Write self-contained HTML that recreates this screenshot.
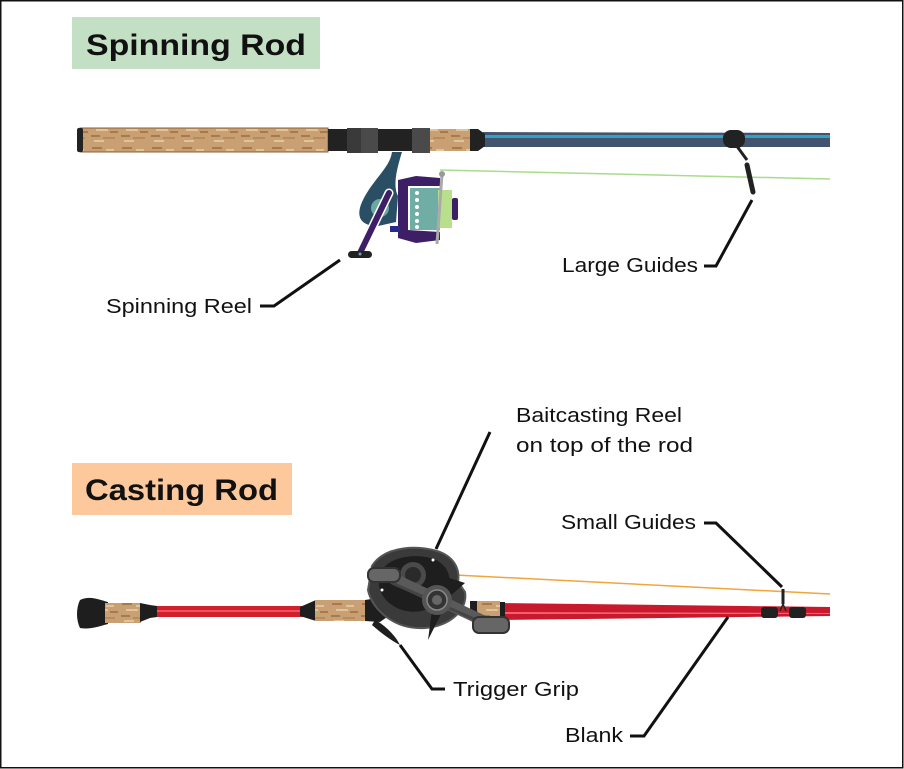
<!DOCTYPE html>
<html><head><meta charset="utf-8"><style>
html,body{margin:0;padding:0;background:#fff}
svg{display:block}
text{font-family:"Liberation Sans",sans-serif;fill:#111}
</style></head><body>
<svg width="904" height="769" viewBox="0 0 904 769" xmlns="http://www.w3.org/2000/svg">
<rect x="0.75" y="0.75" width="902" height="767" fill="#fff" stroke="#111" stroke-width="1.5"/>
<defs>
<pattern id="cork" width="30" height="24" patternUnits="userSpaceOnUse">
<rect width="30" height="24" fill="#c9a074"/>
<rect x="2" y="3" width="10" height="2" fill="#a87a4a"/><rect x="16" y="5" width="8" height="2" fill="#e0c49c"/>
<rect x="6" y="9" width="12" height="2" fill="#e0c49c"/><rect x="20" y="11" width="8" height="2" fill="#a87a4a"/>
<rect x="1" y="15" width="9" height="2" fill="#a87a4a"/><rect x="13" y="17" width="12" height="2" fill="#b98a5a"/>
<rect x="4" y="20" width="10" height="2" fill="#e0c49c"/>
</pattern>
</defs>

<rect x="72" y="17" width="248" height="52" fill="#c3dfc4"/>
<text x="86" y="55" font-size="30" font-weight="bold" textLength="220" lengthAdjust="spacingAndGlyphs">Spinning Rod</text>
<rect x="72" y="463" width="220" height="52" fill="#fdc89b"/>
<text x="85" y="500" font-size="30" font-weight="bold" textLength="193" lengthAdjust="spacingAndGlyphs">Casting Rod</text>

<!-- SPINNING ROD -->
<line x1="440" y1="170" x2="830" y2="179" stroke="#a9dc8c" stroke-width="1.5"/>
<path d="M483 132 L830 133 L830 147 L483 147 Z" fill="#43546e"/>
<rect x="483" y="135" width="347" height="3" fill="#2fa2c8"/>
<rect x="80" y="128" width="248" height="24" fill="url(#cork)" stroke="#8a6238" stroke-width="1"/>
<rect x="77" y="128" width="6" height="24" rx="2" fill="#222"/>
<rect x="328" y="129" width="20" height="22" fill="#222"/>
<rect x="347" y="128" width="31" height="25" fill="#4a4a4a"/>
<rect x="347" y="128" width="14" height="25" fill="#3a3a3a"/>
<rect x="378" y="129" width="34" height="22" fill="#222"/>
<rect x="412" y="128" width="18" height="25" fill="#4a4a4a"/>
<rect x="430" y="129" width="40" height="22" fill="url(#cork)"/>
<path d="M470 129 L478 129 L485 134 L485 146 L478 151 L470 151 Z" fill="#222"/>
<line x1="736" y1="145" x2="747" y2="160" stroke="#222" stroke-width="3"/>
<line x1="747" y1="165" x2="753" y2="192" stroke="#222" stroke-width="5" stroke-linecap="round"/>
<rect x="723" y="130" width="22" height="18" rx="8" fill="#222"/>
<!-- reel -->
<path d="M392 152 C390 168 372 180 362 202 C355 218 362 226 378 226 L396 222 L398 196 C392 185 398 165 402 152 Z" fill="#2a4e63"/>
<circle cx="380" cy="208" r="9" fill="#6aa8a0"/>
<path d="M398 180 L416 176 L440 178 L440 186 L408 186 L408 230 L440 232 L440 240 L416 243 L398 238 Z" fill="#3d1f66"/>
<rect x="410" y="188" width="30" height="42" fill="#6fada5"/>
<g fill="#fff"><circle cx="417" cy="193" r="2"/><circle cx="417" cy="200" r="2"/><circle cx="417" cy="207" r="2"/><circle cx="417" cy="214" r="2"/><circle cx="417" cy="221" r="2"/><circle cx="417" cy="227" r="2"/></g>
<rect x="438" y="190" width="14" height="38" fill="#b8df8a"/>
<rect x="452" y="198" width="6" height="22" rx="2" fill="#3d1f66"/>
<line x1="442" y1="174" x2="437" y2="244" stroke="#aaa" stroke-width="3"/>
<circle cx="442" cy="174" r="3" fill="#999"/>
<rect x="390" y="226" width="10" height="6" fill="#2a2a8a"/>
<line x1="389" y1="193" x2="360" y2="253" stroke="#fff" stroke-width="9" stroke-linecap="round"/>
<line x1="389" y1="193" x2="360" y2="253" stroke="#3d1f66" stroke-width="6" stroke-linecap="round"/>
<rect x="348" y="251" width="24" height="7" rx="3.5" fill="#222"/>
<circle cx="360" cy="254" r="1.5" fill="#6aa8a0"/>

<text x="106" y="313" font-size="20" textLength="146" lengthAdjust="spacingAndGlyphs">Spinning Reel</text>
<polyline points="260,306 274,306 340,260" fill="none" stroke="#111" stroke-width="3"/>
<text x="562" y="272" font-size="20" textLength="136" lengthAdjust="spacingAndGlyphs">Large Guides</text>
<polyline points="704,266 716,266 752,200" fill="none" stroke="#111" stroke-width="3"/>

<!-- CASTING ROD -->
<line x1="455" y1="575" x2="830" y2="594" stroke="#f0a63c" stroke-width="1.5"/>
<rect x="155" y="606" width="150" height="11" fill="#d0202c"/>
<rect x="155" y="610" width="150" height="2" fill="#f25060"/>
<path d="M500 603 L830 607 L830 616 L500 620 Z" fill="#c81a2c"/>
<path d="M500 612 L830 613 L830 614 L500 614 Z" fill="#f56070"/>
<path d="M80 600 C90 595 100 600 108 602 L108 624 C100 626 90 630 80 628 C76 620 76 608 80 600 Z" fill="#1e1e1e"/>
<rect x="105" y="603" width="36" height="20" fill="url(#cork)"/>
<path d="M140 603 L150 605 L157 606 L157 617 L150 618 L140 622 Z" fill="#1e1e1e"/>
<path d="M300 607 L316 600 L316 621 L300 616 Z" fill="#1e1e1e"/>
<rect x="315" y="600" width="50" height="21" fill="url(#cork)"/>
<path d="M365 600 L390 596 L400 608 L380 622 L365 621 Z" fill="#1e1e1e"/>
<path d="M375 620 C385 625 395 635 400 645 C390 640 380 632 372 625 Z" fill="#1e1e1e"/>
<rect x="470" y="601" width="8" height="19" fill="#1e1e1e"/>
<rect x="477" y="601" width="23" height="19" fill="url(#cork)"/>
<rect x="500" y="602" width="5" height="18" fill="#1e1e1e"/>
<path d="M372 566 C385 545 420 545 440 552 C455 558 460 570 458 582 L465 592 C468 610 450 626 425 628 C395 630 372 610 368 590 Z" fill="#3a3a3a" stroke="#555" stroke-width="2"/>
<path d="M382 570 C392 555 420 553 436 560 C448 566 452 578 448 588 C440 612 410 618 392 605 C378 596 376 580 382 570 Z" fill="#1e1e1e"/>
<circle cx="413" cy="575" r="13" fill="#4a4a4a"/><circle cx="413" cy="575" r="8" fill="#2a2a2a"/>
<line x1="390" y1="577" x2="490" y2="624" stroke="#5a5a5a" stroke-width="11" stroke-linecap="round"/>
<line x1="392" y1="583" x2="490" y2="626" stroke="#444" stroke-width="3"/>
<rect x="368" y="568" width="32" height="14" rx="6" fill="#666" stroke="#333" stroke-width="2"/>
<rect x="473" y="617" width="36" height="16" rx="6" fill="#666" stroke="#333" stroke-width="2"/>
<polygon points="440,575 465,583 448,598" fill="#1e1e1e"/>
<polygon points="432,610 428,640 442,612" fill="#1e1e1e"/>
<circle cx="437" cy="600" r="15" fill="#555"/><circle cx="437" cy="600" r="10" fill="#333" stroke="#888" stroke-width="1.5"/><circle cx="437" cy="600" r="5" fill="#666"/>
<circle cx="433" cy="560" r="1.5" fill="#fff"/><circle cx="382" cy="590" r="1.5" fill="#fff"/>
<rect x="761" y="607" width="17" height="11" rx="3" fill="#222"/>
<rect x="789" y="607" width="17" height="11" rx="3" fill="#222"/>
<line x1="783" y1="589" x2="783" y2="604" stroke="#222" stroke-width="3"/>
<polyline points="780,611 783,604 786,611" fill="none" stroke="#222" stroke-width="1.5"/>

<text x="516" y="422" font-size="20" textLength="166" lengthAdjust="spacingAndGlyphs">Baitcasting Reel</text>
<text x="516" y="452" font-size="20" textLength="177" lengthAdjust="spacingAndGlyphs">on top of the rod</text>
<line x1="490" y1="432" x2="436" y2="549" stroke="#111" stroke-width="3"/>
<text x="561" y="529" font-size="20" textLength="135" lengthAdjust="spacingAndGlyphs">Small Guides</text>
<polyline points="704,523 716,523 782,587" fill="none" stroke="#111" stroke-width="3"/>
<text x="453" y="696" font-size="20" textLength="126" lengthAdjust="spacingAndGlyphs">Trigger Grip</text>
<polyline points="445,689 432,689 400,645" fill="none" stroke="#111" stroke-width="3"/>
<text x="565" y="742" font-size="20" textLength="58" lengthAdjust="spacingAndGlyphs">Blank</text>
<polyline points="630,736 644,736 728,617" fill="none" stroke="#111" stroke-width="3"/>
</svg>
</body></html>
